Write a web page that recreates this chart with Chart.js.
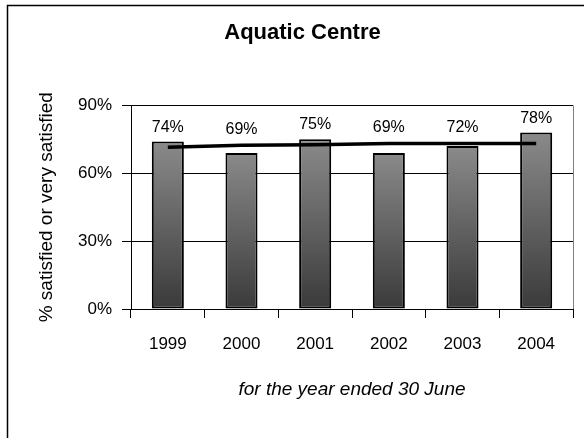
<!DOCTYPE html>
<html>
<head>
<meta charset="utf-8">
<script src="https://cdn.jsdelivr.net/npm/chart.js@4.4.1/dist/chart.umd.min.js"></script>
<style>
  html, body { margin: 0; padding: 0; background: #fff; }
  canvas { display: block; }
</style>
</head>
<body>
<canvas id="aquatic" width="584" height="438"></canvas>
<script>
const years = ['1999', '2000', '2001', '2002', '2003', '2004'];
const satisfied = [74, 69, 75, 69, 72, 78];
const trend = [71.5, 72.4, 72.6, 73.2, 73.2, 73.2];
const yTicks = [0, 30, 60, 90];

const sans = '"Liberation Sans", Arial, sans-serif';

// white page, the outer frame and the grey right edge of the plot
const frame = {
    id: 'frame',
    beforeDraw(chart) {
        const ctx = chart.ctx;
        ctx.save();
        ctx.fillStyle = '#fff';
        ctx.fillRect(0, 0, chart.width, chart.height);
        ctx.strokeStyle = '#000';
        ctx.lineWidth = 1.5;
        ctx.beginPath();
        ctx.moveTo(7.5, chart.height);
        ctx.lineTo(7.5, 5.5);
        ctx.lineTo(chart.width, 5.5);
        ctx.stroke();
        ctx.restore();
    },
    afterDraw(chart) {
        const a = chart.chartArea;
        const ctx = chart.ctx;
        ctx.save();
        ctx.strokeStyle = '#808080';
        ctx.lineWidth = 1;
        ctx.beginPath();
        ctx.moveTo(Math.round(a.right) + 0.5, a.top);
        ctx.lineTo(Math.round(a.right) + 0.5, a.bottom);
        ctx.stroke();
        ctx.restore();
    }
};

// percentage above each bar, kept clear of the line
const valueLabels = {
    id: 'valueLabels',
    afterDatasetsDraw(chart) {
        const ctx = chart.ctx;
        const bars = chart.getDatasetMeta(0).data;
        const line = chart.getDatasetMeta(1).data;
        ctx.save();
        ctx.font = '16px ' + sans;
        ctx.fillStyle = '#000';
        ctx.textAlign = 'center';
        ctx.textBaseline = 'alphabetic';
        bars.forEach(function (bar, i) {
            const top = Math.min(bar.y, line[i].y - 1.5);
            ctx.fillText(satisfied[i] + '%', bar.x, top - 10);
        });
        ctx.restore();
    }
};

function barFill(c) {
    const chart = c.chart;
    const y = chart.scales.y;
    if (!chart.chartArea || !y || c.raw == null) return '#606060';
    const top = y.getPixelForValue(c.raw);
    const bottom = y.getPixelForValue(0);
    const g = chart.ctx.createLinearGradient(0, top, 0, bottom);
    g.addColorStop(0, '#8a8a8a');
    g.addColorStop(1, '#3a3a3a');
    return g;
}

const ctx = document.getElementById('aquatic').getContext('2d');
const chart = new Chart(ctx, {
    type: 'bar',
    data: {
        labels: years,
        datasets: [{
            label: 'Satisfied',
            data: satisfied,
            backgroundColor: barFill,
            borderColor: '#000',
            borderWidth: 2,
            borderSkipped: false,
            barPercentage: 0.435,
            categoryPercentage: 1,
            order: 1
        }, {
            type: 'line',
            label: 'Trend',
            data: trend,
            borderColor: '#000',
            borderWidth: 3.5,
            pointRadius: 0,
            tension: 0,
            fill: false,
            order: 0
        }]
    },
    options: {
        responsive: false,
        devicePixelRatio: 1,
        animation: false,
        layout: { padding: { left: 32, right: 11, top: 0, bottom: 0 } },
        plugins: {
            legend: { display: false },
            tooltip: { enabled: false },
            title: {
                display: true,
                text: 'Aquatic Centre',
                color: '#000',
                font: { family: sans, size: 22, weight: 'bold' },
                padding: { top: 20, bottom: 59 }
            }
        },
        scales: {
            x: {
                offset: true,
                afterFit(scale) { scale.height = 129; },
                grid: {
                    offset: true,
                    drawOnChartArea: false,
                    color: '#000',
                    tickLength: 9
                },
                border: { color: '#000', width: 1 },
                ticks: {
                    color: '#000',
                    padding: 16,
                    font: { family: sans, size: 17 }
                },
                title: {
                    display: true,
                    text: 'for the year ended 30 June',
                    color: '#000',
                    font: { family: sans, size: 19, style: 'italic' },
                    padding: { top: 0, bottom: 37 }
                }
            },
            y: {
                min: 0,
                max: 90,
                afterFit(scale) { scale.width = 99; },
                afterBuildTicks(scale) {
                    scale.ticks = yTicks.map(function (v) { return { value: v }; });
                },
                grid: {
                    color: '#000',
                    tickLength: 9
                },
                border: { color: '#000', width: 1 },
                ticks: {
                    color: '#000',
                    padding: 10,
                    font: { family: sans, size: 17 },
                    callback: function (v) { return v + '%'; }
                },
                title: {
                    display: true,
                    text: '% satisfied or very satisfied',
                    color: '#000',
                    font: { family: sans, size: 19 },
                    padding: { top: 3, bottom: 0 }
                }
            }
        }
    },
    plugins: [frame, valueLabels]
});
</script>
</body>
</html>
